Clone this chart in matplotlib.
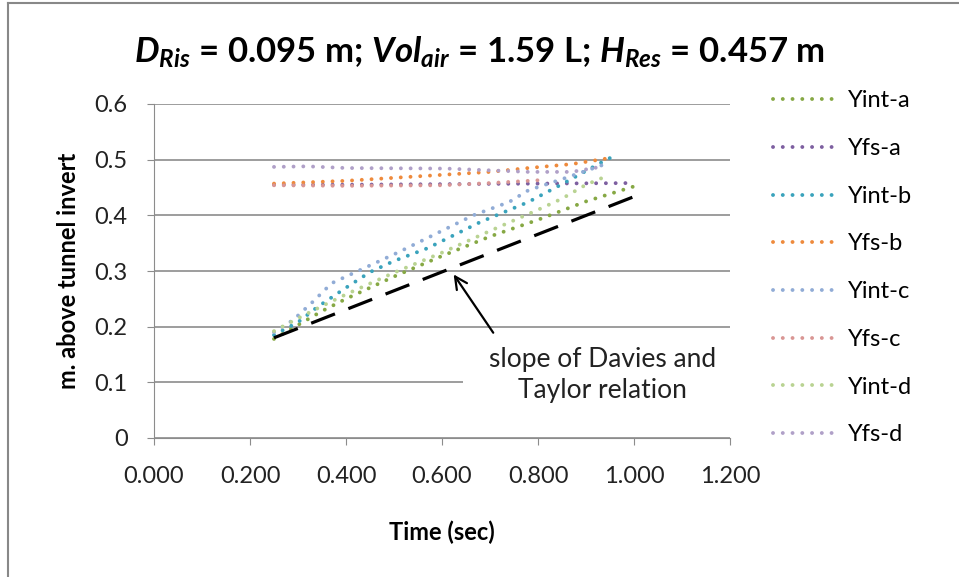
import matplotlib.pyplot as plt
from matplotlib.patches import Rectangle
from matplotlib.lines import Line2D

plt.rcParams['font.family'] = ['Lato', 'DejaVu Sans']
plt.rcParams['mathtext.fontset'] = 'custom'
plt.rcParams['mathtext.bf'] = 'Lato:italic:bold'
plt.rcParams['mathtext.it'] = 'Lato:italic'
plt.rcParams['mathtext.rm'] = 'Lato'

# data
t_int_a = [0.25, 0.30, 0.35, 0.40, 0.50, 0.60, 0.70, 0.80, 0.90, 1.015]
y_int_a = [0.178, 0.203, 0.228, 0.250, 0.290, 0.327, 0.362, 0.392, 0.425, 0.456]
t_fs_a = [0.25, 0.40, 0.60, 0.80, 1.00]
y_fs_a = [0.455, 0.455, 0.456, 0.457, 0.458]
t_int_b = [0.25, 0.30, 0.34, 0.40, 0.45, 0.50, 0.57, 0.68, 0.78, 0.85, 0.89, 0.93, 0.95]
y_int_b = [0.185, 0.208, 0.235, 0.270, 0.298, 0.318, 0.341, 0.388, 0.424, 0.456, 0.475, 0.494, 0.503]
t_fs_b = [0.25, 0.40, 0.53, 0.70, 0.78, 0.87, 0.95]
y_fs_b = [0.457, 0.462, 0.469, 0.478, 0.485, 0.492, 0.503]
t_int_c = [0.25, 0.29, 0.33, 0.37, 0.42, 0.51, 0.59, 0.665, 0.74, 0.78, 0.85, 0.91, 0.95]
y_int_c = [0.190, 0.212, 0.244, 0.278, 0.298, 0.334, 0.368, 0.400, 0.424, 0.445, 0.465, 0.483, 0.495]
t_fs_c = [0.25, 0.40, 0.60, 0.70, 0.80]
y_fs_c = [0.454, 0.453, 0.454, 0.458, 0.463]
t_int_d = [0.25, 0.30, 0.35, 0.40, 0.50, 0.60, 0.70, 0.80, 0.85, 0.90, 0.95]
y_int_d = [0.192, 0.215, 0.237, 0.258, 0.297, 0.333, 0.372, 0.410, 0.430, 0.455, 0.473]
t_fs_d = [0.25, 0.32, 0.40, 0.61, 0.78, 0.87, 0.93]
y_fs_d = [0.487, 0.488, 0.485, 0.484, 0.478, 0.478, 0.487]

# Davies and Taylor slope
t_dt = [0.25, 1.01]
y_dt = [0.18, 0.437]

series = [
    ('Yint-a', t_int_a, y_int_a, '#86A844'),
    ('Yfs-a', t_fs_a, y_fs_a, '#7D5FA0'),
    ('Yint-b', t_int_b, y_int_b, '#3AA3BC'),
    ('Yfs-b', t_fs_b, y_fs_b, '#EE8A3C'),
    ('Yint-c', t_int_c, y_int_c, '#91ACD6'),
    ('Yfs-c', t_fs_c, y_fs_c, '#D99694'),
    ('Yint-d', t_int_d, y_int_d, '#B9D392'),
    ('Yfs-d', t_fs_d, y_fs_d, '#B0A0C8'),
]

fig = plt.figure(figsize=(9.59, 5.77), dpi=100)
ax = fig.add_axes([154 / 959, 1 - 438 / 577, 576 / 959, 334 / 577])

# chart border (top and left only visible)
fig.add_artist(Line2D([8 / 959, 8 / 959], [0, 1 - 3 / 577], color='#888888', lw=1.5))
fig.add_artist(Line2D([8 / 959, 1], [1 - 3 / 577, 1 - 3 / 577], color='#888888', lw=1.5))

ax.set_xlim(0, 1.2)
ax.set_ylim(0, 0.6)
ax.set_xticks([0, 0.2, 0.4, 0.6, 0.8, 1.0, 1.2])
ax.set_xticklabels(['0.000', '0.200', '0.400', '0.600', '0.800', '1.000', '1.200'])
ax.set_yticks([0, 0.1, 0.2, 0.3, 0.4, 0.5, 0.6])
ax.set_yticklabels(['0', '0.1', '0.2', '0.3', '0.4', '0.5', '0.6'])
ax.grid(axis='y', color='#8C8C8C', lw=1.2)
ax.set_axisbelow(True)
for s in ['top', 'right']:
    ax.spines[s].set_visible(False)
for s in ['left', 'bottom']:
    ax.spines[s].set_color('#8C8C8C')
ax.tick_params(axis='both', direction='out', length=5, color='#8C8C8C',
               labelsize=17, labelcolor='#222222', pad=14)
ax.tick_params(axis='x', pad=15)

# white box behind the note
ax.add_patch(Rectangle((0.644, 0.055), 0.6, 0.14, facecolor='white',
                       edgecolor='none', zorder=1.5))

for name, t, y, c in series:
    ax.plot(t, y, color=c, lw=2.8, linestyle=(0, (0.01, 2.5)),
            dash_capstyle='round', label=name, zorder=3)

ax.plot(t_dt, y_dt, color='black', lw=2.3, linestyle=(0, (8, 4.5)), zorder=4)

ax.annotate('', xy=(0.621, 0.298), xytext=(0.71, 0.185),
            arrowprops=dict(arrowstyle='->', lw=1.6, color='black', mutation_scale=22),
            zorder=5)
ax.text(0.935, 0.114, 'slope of Davies and\nTaylor relation', ha='center', va='center',
        fontsize=19, color='#222222', linespacing=1.3, zorder=5)

ax.set_xlabel('Time (sec)', fontsize=17, fontweight='bold', labelpad=24)
ax.set_ylabel('m. above tunnel invert', fontsize=17, fontweight='bold', labelpad=10)

fig.text(0.5, 1 - 52 / 577,
         r'$\mathbf{D_{Ris}}$ = 0.095 m; $\mathbf{Vol_{air}}$ = 1.59 L; $\mathbf{H_{Res}}$ = 0.457 m',
         ha='center', va='center', fontsize=25, fontweight='bold')

ax.legend(loc='upper left', bbox_to_anchor=(764 / 959, 1 - 81 / 577),
          bbox_transform=fig.transFigure, frameon=False, fontsize=17,
          handlelength=2.7, handletextpad=0.47, labelspacing=1.13, borderaxespad=0)

plt.savefig('out.png', dpi=100)
